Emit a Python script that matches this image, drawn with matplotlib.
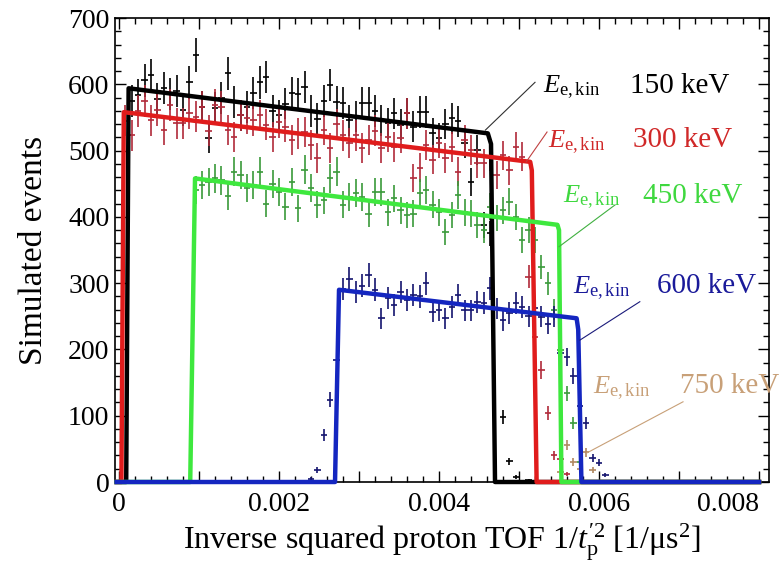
import numpy as np
import matplotlib
matplotlib.use("Agg")
import matplotlib.pyplot as plt
from matplotlib.ticker import MultipleLocator

plt.rcParams['font.family'] = ['Liberation Serif', 'DejaVu Serif']
plt.rcParams['mathtext.fontset'] = 'custom'
plt.rcParams['mathtext.rm'] = 'Liberation Serif'
plt.rcParams['mathtext.it'] = 'Liberation Serif:italic'

# histogram bin width (1/us^2)
bin_w = 0.00008

# simulated events, one value per bin, starting at the given bin centre
black_start = 0.00016
black_counts = [575, 584, 606, 614, 578, 594, 585, 590, 561, 603, 644, 566, 519, 564, 580,
                617, 573, 553, 566, 587, 603, 611, 560, 553, 571, 587, 585, 596, 560, 548,
                575, 599, 574, 572, 546, 552, 572, 572, 560, 546, 541, 556, 539, 556, 536,
                558, 558, 526, 519, 540, 549, 544, 511, 453, 501, 388, 375, 0, 98, 31, 8, 0, 3]

red_start = 0.00008
red_counts = [545, 523, 560, 575, 546, 561, 531, 569, 541, 541, 556, 551, 566, 530, 569,
              566, 531, 521, 553, 549, 546, 553, 539, 521, 543, 536, 516, 526, 528, 508,
              489, 531, 504, 540, 523, 511, 523, 504, 516, 530, 504, 521, 506, 519, 556,
              459, 474, 508, 486, 511, 489, 506, 468, 516, 501, 481, 481, 491, 463, 493,
              470, 505, 491, 310, 219, 169, 104, 40, 35, 12]

green_start = 0.00096
green_counts = [440, 448, 453, 458, 455, 431, 468, 463, 443, 448, 468, 420, 450, 438, 415,
                453, 413, 471, 443, 418, 425, 458, 468, 418, 430, 436, 430, 405, 438, 438,
                407, 428, 410, 403, 405, 436, 441, 418, 407, 377, 403, 433, 407, 405, 388,
                380, 415, 398, 410, 423, 400, 365, 380, 365, 325, 300, 260, 199, 134, 89, 30]

blue_start = 0.00240
blue_counts = [5, 18, 71, 124, 184, 291, 307, 287, 296, 312, 290, 247, 277, 267, 287,
               275, 282, 280, 300, 257, 259, 247, 264, 282, 259, 259, 272, 270, 292, 262,
               244, 255, 270, 264, 250, 262, 249, 239, 250, 194, 189, 160, 114, 89, 36,
               29, 10]

tan_start = 0.00552
tan_counts = [15, 56, 30, 20, 45, 18]

# fitted spectra (corner points)
black_fit_x = [-0.00003, 0.00009, 0.00012, 0.00461, 0.00465, 0.00470, 0.00800]
black_fit_y = [0, 0, 594, 526, 510, 0, 0]
red_fit_x = [-0.00003, 0.00003, 0.00006, 0.00514, 0.00516, 0.00522, 0.00800]
red_fit_y = [0, 0, 558, 483, 470, 0, 0]
green_fit_x = [-0.00003, 0.00089, 0.00095, 0.00548, 0.00550, 0.00553, 0.00800]
green_fit_y = [0, 0, 458, 388, 380, 0, 0]
blue_fit_x = [-0.00003, 0.00270, 0.00275, 0.00572, 0.00574, 0.00578, 0.00800]
blue_fit_y = [0, 0, 290, 247, 230, 0, 0]

energies = ["150 keV", "300 keV", "450 keV", "600 keV", "750 keV"]
x_ticks = [0, 0.001, 0.002, 0.003, 0.004, 0.005, 0.006, 0.007, 0.008]
x_ticklabels = ["0", "", "0.002", "", "0.004", "", "0.006", "", "0.008"]

fig = plt.figure(figsize=(7.84, 5.65), dpi=100)
ax = fig.add_axes([0.1467, 0.1469, 0.8342, 0.8212])

def draw_points(start, counts, color):
    counts = np.array(counts, dtype=float)
    x = start + bin_w * np.arange(len(counts))
    keep = counts > 0
    ax.errorbar(x[keep], counts[keep], xerr=bin_w / 2, yerr=np.sqrt(counts[keep]),
                fmt='none', ecolor=color, elinewidth=1.2, capsize=0, zorder=2)

draw_points(black_start, black_counts, 'black')
draw_points(red_start, red_counts, '#b02a3a')
draw_points(green_start, green_counts, '#3a9a3a')
draw_points(blue_start, blue_counts, '#14146e')
draw_points(tan_start, tan_counts, '#b08860')

ax.plot(black_fit_x, black_fit_y, color='black', lw=3.2, clip_on=False, zorder=3)
ax.plot(red_fit_x, red_fit_y, color='#e01c1c', lw=3.2, clip_on=False, zorder=3)
ax.plot(green_fit_x, green_fit_y, color='#3ee83e', lw=3.2, clip_on=False, zorder=3)
ax.plot(blue_fit_x, blue_fit_y, color='#1426c0', lw=3.2, clip_on=False, zorder=3)

# labels with leader lines
ekin = r'$E_{\mathrm{e,kin}}$'
label_colors = ['black', '#d02828', '#3fd83f', '#1a1a9a', '#c8a078']
e_pos = [(0.00530, 587), (0.00536, 505), (0.00555, 421), (0.00568, 285), (0.00593, 134)]
kev_pos = [(0.00639, 587), (0.00643, 505), (0.00655, 421), (0.00673, 285), (0.00701, 134)]
leader_x = [(0.00520, 0.00458), (0.00535, 0.00509), (0.00620, 0.00550), (0.00651, 0.00576), (0.00705, 0.00585)]
leader_y = [(603, 531), (528, 483), (418, 355), (272, 214), (121, 44)]
leader_colors = ['#303030', '#c04040', '#40b040', '#1a1a7a', '#c8a078']

for i in range(5):
    ax.text(e_pos[i][0], e_pos[i][1], ekin, color=label_colors[i], fontsize=19, va='baseline', ha='left')
    ax.text(kev_pos[i][0], kev_pos[i][1], energies[i], color=label_colors[i], fontsize=21,
            va='baseline', ha='left', clip_on=False, zorder=5)
    ax.plot(leader_x[i], leader_y[i], color=leader_colors[i], lw=0.8, zorder=4)

ax.set_xlim(-0.00005, 0.008125)
ax.set_ylim(0, 700)

ax.set_xticks(x_ticks, x_ticklabels)
ax.xaxis.set_minor_locator(MultipleLocator(0.0002))
ax.yaxis.set_major_locator(MultipleLocator(100))
ax.yaxis.set_minor_locator(MultipleLocator(20))
ax.tick_params(which='both', direction='in', top=True, right=True, width=1)
ax.tick_params(which='major', length=8, labelsize=20)
ax.tick_params(which='minor', length=4)
ax.tick_params(axis='x', pad=7)
ax.tick_params(axis='y', pad=4)
# last label sits left of its tick so it stays inside the figure
ax.get_xticklabels()[-1].set_horizontalalignment('right')
for s in ax.spines.values():
    s.set_linewidth(1.2)

ax.set_xlabel(r"Inverse squared proton TOF 1/$t_{\mathrm{p}}^{\prime 2}$ [1/μs$^{2}$]", fontsize=23, labelpad=3)
ax.set_ylabel("Simulated events", fontsize=24, labelpad=14)

fig.savefig("out.png", dpi=100)
